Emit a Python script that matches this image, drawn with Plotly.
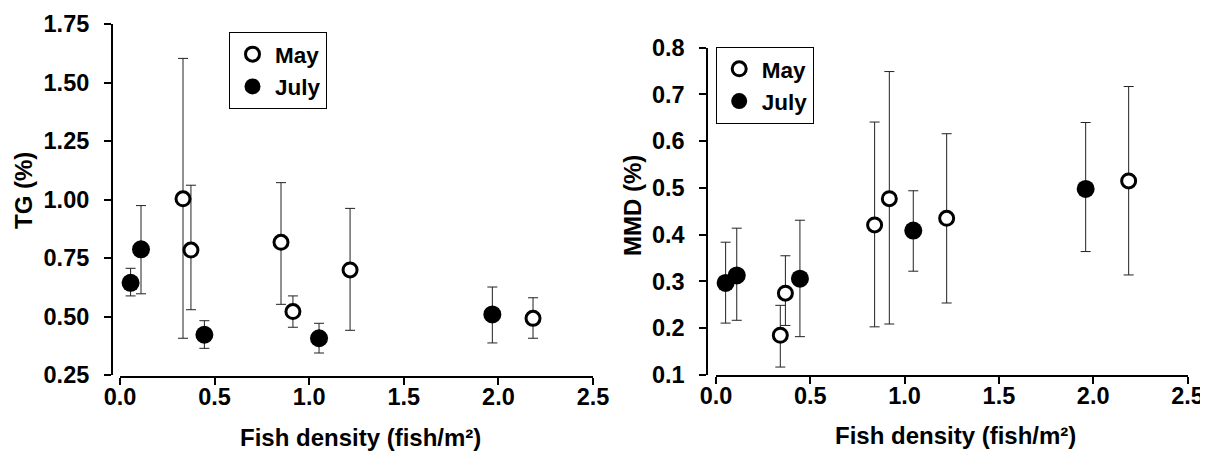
import plotly.graph_objects as go

# ---- Data: TG (%) panel ----
tg_may_x = [0.333, 0.375, 0.851, 0.914, 1.216, 2.183]
tg_may_y = [1.003, 0.784, 0.817, 0.521, 0.699, 0.492]
tg_may_hi = [1.603, 1.061, 1.072, 0.588, 0.962, 0.580]
tg_may_lo = [0.407, 0.529, 0.552, 0.454, 0.441, 0.407]

tg_jul_x = [0.056, 0.111, 0.446, 1.052, 1.968]
tg_jul_y = [0.644, 0.787, 0.422, 0.407, 0.509]
tg_jul_hi = [0.706, 0.974, 0.482, 0.471, 0.626]
tg_jul_lo = [0.588, 0.597, 0.364, 0.344, 0.387]

# ---- Data: MMD (%) panel ----
mmd_may_x = [0.341, 0.368, 0.841, 0.919, 1.223, 2.188]
mmd_may_y = [0.185, 0.275, 0.421, 0.477, 0.435, 0.515]
mmd_may_hi = [0.249, 0.355, 0.641, 0.749, 0.616, 0.717]
mmd_may_lo = [0.117, 0.206, 0.203, 0.209, 0.254, 0.314]

mmd_jul_x = [0.051, 0.110, 0.445, 1.046, 1.960]
mmd_jul_y = [0.297, 0.313, 0.306, 0.409, 0.498]
mmd_jul_hi = [0.384, 0.414, 0.431, 0.494, 0.640]
mmd_jul_lo = [0.211, 0.217, 0.182, 0.322, 0.364]

x_ticks = [0.0, 0.5, 1.0, 1.5, 2.0, 2.5]
tg_ticks = [0.25, 0.50, 0.75, 1.00, 1.25, 1.50, 1.75]
mmd_ticks = [0.1, 0.2, 0.3, 0.4, 0.5, 0.6, 0.7, 0.8]

W, H = 1208, 452
OFF = 8  # page body margin offset of the rendered figure
FONT = "Liberation Sans, Arial, sans-serif"


def px(v):
    return (v - OFF) / W


def py(v):
    return 1 - (v - OFF) / H


def err(y, hi, lo):
    return dict(type="data", symmetric=False,
                array=[h - v for v, h in zip(y, hi)],
                arrayminus=[v - l for v, l in zip(y, lo)],
                color="#222222", thickness=1, width=5)


may_marker = dict(symbol="circle", size=14, color="white",
                  line=dict(color="black", width=3))
jul_marker = dict(symbol="circle", size=18, color="black",
                  line=dict(color="black", width=0))

fig = go.Figure()

fig.add_trace(go.Scatter(x=tg_may_x, y=tg_may_y, mode="markers", name="May",
                         marker=may_marker, error_y=err(tg_may_y, tg_may_hi, tg_may_lo),
                         xaxis="x", yaxis="y", legend="legend", cliponaxis=False))
fig.add_trace(go.Scatter(x=tg_jul_x, y=tg_jul_y, mode="markers", name="July",
                         marker=jul_marker, error_y=err(tg_jul_y, tg_jul_hi, tg_jul_lo),
                         xaxis="x", yaxis="y", legend="legend", cliponaxis=False))
fig.add_trace(go.Scatter(x=mmd_may_x, y=mmd_may_y, mode="markers", name="May",
                         marker=may_marker, error_y=err(mmd_may_y, mmd_may_hi, mmd_may_lo),
                         xaxis="x2", yaxis="y2", legend="legend2", cliponaxis=False))
fig.add_trace(go.Scatter(x=mmd_jul_x, y=mmd_jul_y, mode="markers", name="July",
                         marker=jul_marker, error_y=err(mmd_jul_y, mmd_jul_hi, mmd_jul_lo),
                         xaxis="x2", yaxis="y2", legend="legend2", cliponaxis=False))

TICK_SIZE = 23.5
tickfont = dict(family=FONT, size=TICK_SIZE, color="black", weight="bold")
common = dict(showgrid=False, zeroline=False, showline=True, linecolor="black",
              linewidth=2, ticks="outside", ticklen=7, tickwidth=2, tickcolor="black",
              tickfont=tickfont, automargin=False)

legend_common = dict(xanchor="left", yanchor="top", bordercolor="black",
                     borderwidth=1, bgcolor="white", itemwidth=35,
                     font=dict(family=FONT, size=22.5, color="black", weight="bold"),
                     tracegroupgap=0)

fig.update_layout(
    template="none",
    width=W, height=H,
    margin=dict(l=0, r=0, t=0, b=0, pad=0),
    paper_bgcolor="white", plot_bgcolor="white",
    font=dict(family=FONT, color="black"),
    xaxis=dict(domain=[px(120), px(593)], range=[0, 2.5], tickvals=x_ticks,
               tickformat=".1f", anchor="free", position=py(377),
               ticklabelstandoff=-8, **common),
    yaxis=dict(domain=[py(375), py(24)], range=[0.25, 1.75], tickvals=tg_ticks,
               tickformat=".2f", anchor="free", position=px(112),
               ticklabelstandoff=10, **common),
    xaxis2=dict(domain=[px(716), px(1187.5)], range=[0, 2.5], tickvals=x_ticks,
                tickformat=".1f", anchor="free", position=py(376),
                ticklabelstandoff=-8, **common),
    yaxis2=dict(domain=[py(375), py(47.7)], range=[0.1, 0.8], tickvals=mmd_ticks,
                tickformat=".1f", anchor="free", position=px(707.3),
                ticklabelstandoff=10, **common),
    legend=dict(x=px(229), y=py(32), **legend_common),
    legend2=dict(x=px(715.7), y=py(46.7), **legend_common),
    showlegend=True,
)

title_font = dict(family=FONT, size=24, color="black", weight="bold")
fig.add_annotation(text="TG (%)", x=px(23), y=py(191), xref="paper", yref="paper",
                   textangle=-90, showarrow=False, font=title_font,
                   xanchor="center", yanchor="middle")
fig.add_annotation(text="MMD (%)", x=px(632), y=py(206), xref="paper", yref="paper",
                   textangle=-90, showarrow=False, font=title_font,
                   xanchor="center", yanchor="middle")
fig.add_annotation(text="Fish density (fish/m²)", x=px(360), y=py(437), xref="paper",
                   yref="paper", showarrow=False, font=title_font,
                   xanchor="center", yanchor="middle")
fig.add_annotation(text="Fish density (fish/m²)", x=px(955), y=py(435), xref="paper",
                   yref="paper", showarrow=False, font=title_font,
                   xanchor="center", yanchor="middle")

fig.write_html("out.html")
